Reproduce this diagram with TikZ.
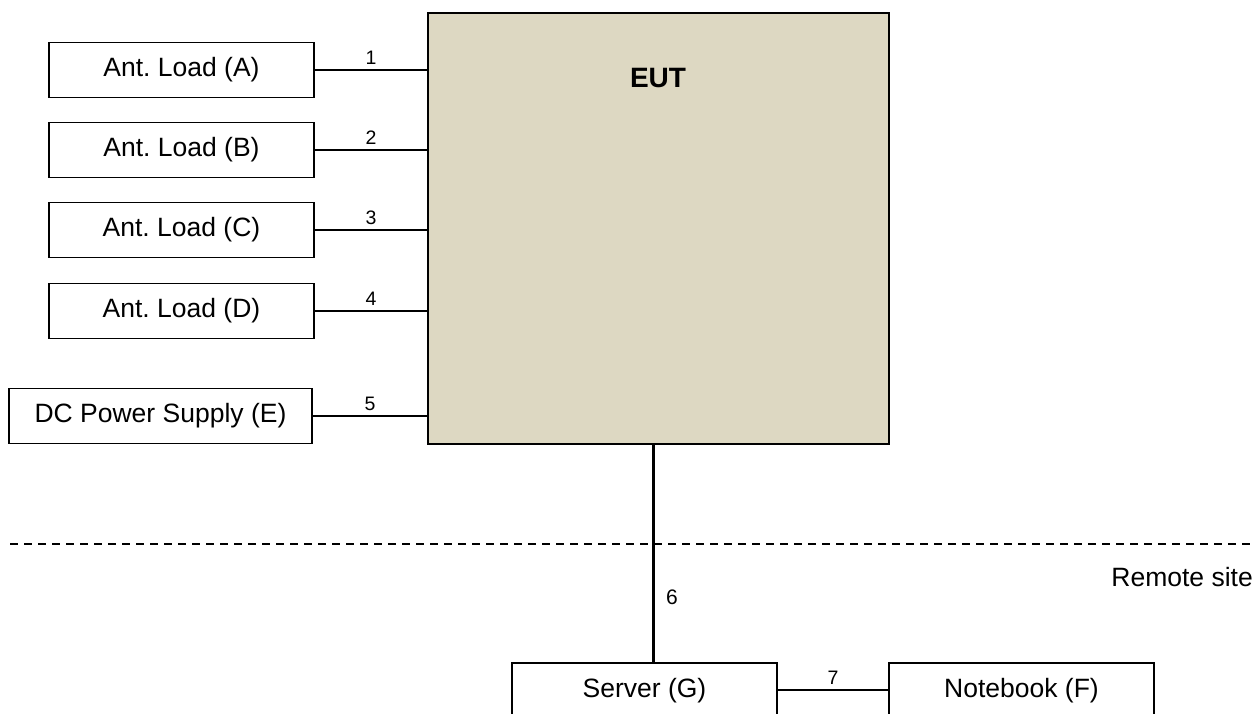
\documentclass[tikz,border=0pt]{standalone}
\usepackage{fontspec}
\setmainfont{Liberation Sans}
\definecolor{eutfill}{HTML}{DDD8C2}
\begin{document}
\frenchspacing
\begin{tikzpicture}[x=1pt,y=-1pt,
  box/.style={draw=black,line width=1.6pt,fill=white,inner sep=0pt,font=\fontsize{26.5}{30}\selectfont},
  wire/.style={line width=2.2pt},
  num/.style={inner sep=0pt,font=\fontsize{19.5}{22}\selectfont}]
\useasboundingbox (0,0) rectangle (1257,713);
\clip (0,0) rectangle (1257,713);
% EUT
\node[draw=black,line width=1.8pt,fill=eutfill,minimum width=461pt,minimum height=431pt,inner sep=0pt] (eut) at (658.5,228.5) {};
\node[inner sep=0pt,font=\fontsize{28}{30}\selectfont\bfseries] (euttxt) at (658,78) {EUT};
% loads
\node[box,minimum width=265pt,minimum height=55pt] (A) at (181.5,70) {Ant. Load (A)};
\node[box,minimum width=265pt,minimum height=55pt] (B) at (181.5,150) {Ant. Load (B)};
\node[box,minimum width=265pt,minimum height=55pt] (C) at (181.5,230) {Ant. Load (C)};
\node[box,minimum width=265pt,minimum height=55pt] (D) at (181.5,311) {Ant. Load (D)};
\node[box,minimum width=303pt,minimum height=55pt] (E) at (160.5,416) {DC Power Supply (E)};
\foreach \n/\l in {A/1,B/2,C/3,D/4,E/5}{
  \draw[wire] (\n.east) -- (\n.east -| eut.west) coordinate[pos=0.5] (m\n);
  \node[num,anchor=south,yshift=5pt] (lab\n) at (m\n) {\l};
}
% remote site
\coordinate (dl) at (10,544);
\coordinate (dr) at (1252,544);
\draw[line width=1.4pt,dash pattern=on 8pt off 6pt] (dl) -- (dr);
\node[inner sep=0pt,anchor=east,font=\fontsize{26.5}{30}\selectfont] (remote) at (1253,577) {Remote site};
% bottom boxes
\node[box,minimum width=265pt,minimum height=56pt] (G) at (644.5,691) {Server (G)};
\node[box,minimum width=265pt,minimum height=56pt] (F) at (1021.5,691) {Notebook (F)};
\draw[line width=3.5pt] (eut.south -| 653.5,0) -- (G.north -| 653.5,0);
\node[num,font=\fontsize{21}{24}\selectfont] (lab6) at (672,597) {6};
\draw[wire] (G.east |- 0,690) -- (F.west |- 0,690) coordinate[pos=0.5] (m7);
\node[num,anchor=south,yshift=5pt] (lab7) at (m7) {7};
\end{tikzpicture}
\end{document}
